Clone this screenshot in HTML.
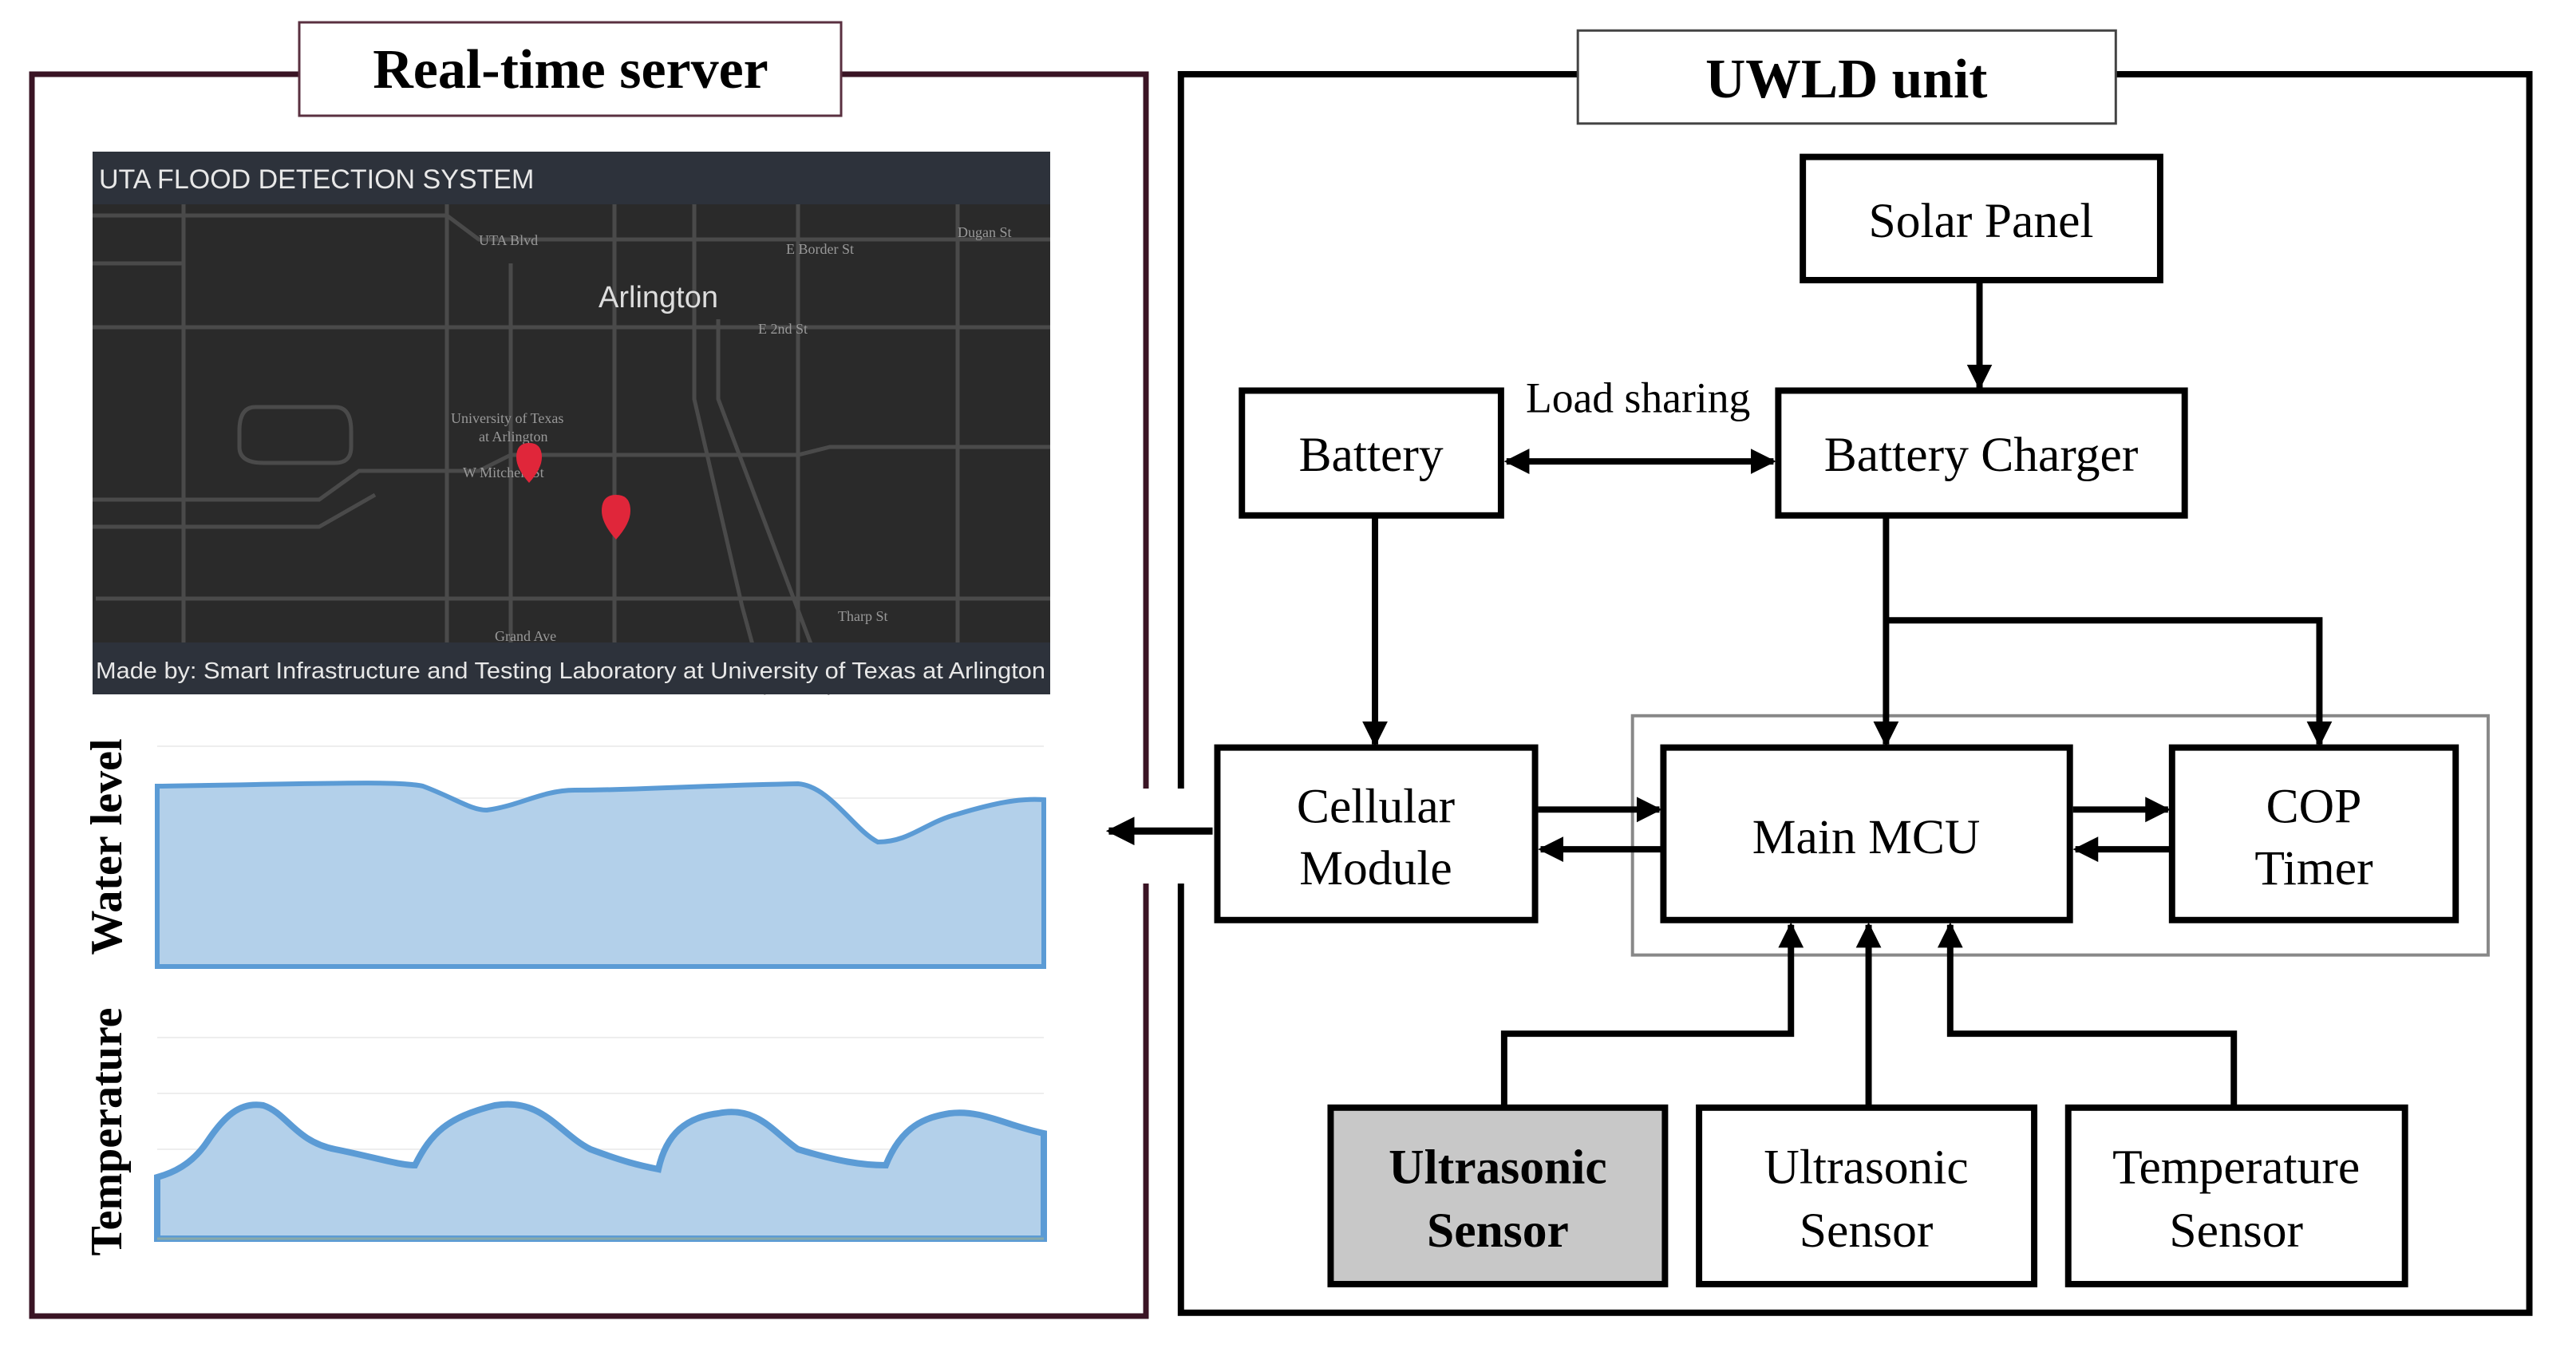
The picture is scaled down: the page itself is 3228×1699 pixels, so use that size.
<!DOCTYPE html>
<html><head><meta charset="utf-8"><style>
html,body{margin:0;padding:0;background:#fff}
svg{display:block}
text{font-family:"Liberation Serif",serif}
.m{font-family:"Liberation Sans",sans-serif}
</style></head><body>
<svg width="3228" height="1699" viewBox="0 0 3228 1699" xmlns="http://www.w3.org/2000/svg">
<defs>
<marker id="a" viewBox="0 0 10 10" refX="9" refY="5" markerWidth="4" markerHeight="4" orient="auto-start-reverse" markerUnits="strokeWidth"><path d="M0,0 L10,5 L0,10 z" fill="#000"/></marker>
</defs>
<rect width="3228" height="1699" fill="#fff"/>
<!-- left frame -->
<rect x="40" y="93" width="1396" height="1556" fill="none" stroke="#3a1424" stroke-width="7"/>
<rect x="375" y="28" width="679" height="117" fill="#fff" stroke="#5a3040" stroke-width="3"/>
<text x="715" y="110" font-size="70" font-weight="bold" text-anchor="middle">Real-time server</text>

<g transform="matrix(0.9928,0,0,0.996,4.5,0.4)">
<!-- right frame -->
<rect x="1486" y="93" width="1702" height="1558" fill="none" stroke="#000" stroke-width="8"/>
<rect x="1987" y="38" width="679" height="117" fill="#fff" stroke="#444" stroke-width="3"/>
<text x="2326" y="122" font-size="70" font-weight="bold" text-anchor="middle">UWLD unit</text>
</g>
<!-- gap -->
<rect x="1330" y="988" width="190" height="119" fill="#fff"/>
<g transform="matrix(0.9928,0,0,0.996,4.5,0.4)">
<line x1="1526" y1="1045" x2="1395" y2="1045" stroke="#000" stroke-width="9" marker-end="url(#a)"/>
</g>

<!-- map -->
<rect x="116" y="190" width="1200" height="680" fill="#2a2a2a"/>
<g stroke="#4a4a4a" stroke-width="5" fill="none">
<path d="M116,270 H560 L600,300 H1316"/>
<path d="M116,410 H1316"/>
<path d="M116,626 H400 L450,590 H600 L640,570 H1000 L1040,560 H1316"/>
<path d="M120,750 H1316"/>
<path d="M230,255 V870"/><path d="M560,255 V870"/><path d="M770,255 V870"/>
<path d="M1000,255 V870"/><path d="M1200,255 V870"/><path d="M870,255 V500 L930,760 L960,870"/>
<path d="M116,660 H400 L470,620"/>
<path d="M320,510 H420 Q440,510 440,540 V560 Q440,580 420,580 H330 Q300,580 300,560 V540 Q300,510 320,510Z"/>
<path d="M640,330 V870"/><path d="M900,400 V500 L1040,870"/><path d="M116,330 H230"/>
</g>
<rect x="116" y="190" width="1200" height="66" fill="#2d323b"/>
<text class="m" x="124" y="236" font-size="34" fill="#e8e8e8">UTA FLOOD DETECTION SYSTEM</text>
<rect x="116" y="805" width="1200" height="65" fill="#2d323b"/>
<text class="m" x="120" y="850" font-size="29" fill="#e8e8e8" textLength="1190" lengthAdjust="spacingAndGlyphs">Made by: Smart Infrastructure and Testing Laboratory at University of Texas at Arlington</text>
<text class="m" x="750" y="385" font-size="38" fill="#ddd">Arlington</text>
<g class="m" font-size="18" fill="#999">
<text x="600" y="307">UTA Blvd</text><text x="985" y="318">E Border St</text><text x="1200" y="297">Dugan St</text>
<text x="950" y="418">E 2nd St</text><text x="565" y="530">University of Texas</text><text x="600" y="553">at Arlington</text>
<text x="580" y="598">W Mitchell St</text><text x="1050" y="778">Tharp St</text><text x="620" y="803">Grand Ave</text>
</g>
<path d="M663,555 q-16,0 -16,18 q0,14 16,32 q16,-18 16,-32 q0,-18 -16,-18z" fill="#e0263a"/>
<path d="M772,620 q-18,0 -18,20 q0,16 18,36 q18,-20 18,-36 q0,-20 -18,-20z" fill="#e0263a"/>

<!-- water level chart -->
<g stroke="#eee" stroke-width="2">
<path d="M197,935 H1308 M197,1000 H1308 M197,1070 H1308 M197,1140 H1308"/>
</g>
<path d="M197,985 C400,982 500,978 530,985 C570,1000 590,1015 610,1015 C650,1010 680,990 720,990 C800,990 850,985 1000,982 C1040,985 1070,1040 1100,1055 C1140,1055 1160,1030 1200,1020 C1250,1005 1280,1000 1308,1002 V1211 H197Z" fill="#b3d0ea" stroke="#5b9bd5" stroke-width="6"/>
<text x="152" y="1061" font-size="56" font-weight="bold" transform="rotate(-90 152 1061)" text-anchor="middle">Water level</text>
<!-- temperature -->
<g stroke="#eee" stroke-width="2"><path d="M197,1300 H1308 M197,1370 H1308 M197,1440 H1308 M197,1510 H1308"/></g>
<path d="M197,1475 C215,1470 240,1460 260,1430 C280,1400 300,1380 330,1385 C360,1395 370,1430 420,1440 C470,1450 500,1460 520,1460 C540,1420 560,1400 620,1385 C680,1375 700,1420 740,1440 C780,1455 800,1460 825,1465 C835,1420 860,1400 900,1395 C950,1385 970,1420 1000,1440 C1050,1455 1080,1460 1110,1460 C1130,1410 1160,1400 1190,1395 C1230,1390 1260,1410 1308,1420 V1552 H197Z" fill="#b3d0ea" stroke="#5b9bd5" stroke-width="8"/>
<line x1="197" y1="1552" x2="1308" y2="1552" stroke="#8aa" stroke-width="3"/>
<text x="152" y="1418" font-size="56" font-weight="bold" transform="rotate(-90 152 1418)" text-anchor="middle">Temperature</text>

<!-- diagram -->
<g transform="matrix(0.9928,0,0,0.996,4.5,0.4)">
<rect x="2056" y="900" width="1080" height="301" fill="none" stroke="#888" stroke-width="4"/>
<g fill="#fff" stroke="#000" stroke-width="8">
<rect x="2271" y="197" width="451" height="155"/>
<rect x="1563" y="491" width="327" height="157"/>
<rect x="2240" y="491" width="513" height="157"/>
<rect x="1532" y="940" width="401" height="217"/>
<rect x="2095" y="940" width="513" height="217"/>
<rect x="2737" y="940" width="358" height="217"/>
<rect x="1675" y="1393" width="422" height="222" fill="#c8c8c8"/>
<rect x="2140" y="1393" width="423" height="222"/>
<rect x="2606" y="1393" width="425" height="222"/>
</g>
<g font-size="62" text-anchor="middle">
<text x="2496" y="298">Solar Panel</text>
<text x="1726" y="592">Battery</text>
<text x="2496" y="592">Battery Charger</text>
<text x="1732" y="1034">Cellular</text><text x="1732" y="1112">Module</text>
<text x="2351" y="1073">Main MCU</text>
<text x="2916" y="1034">COP</text><text x="2916" y="1112">Timer</text>
<text x="1886" y="1488" font-weight="bold">Ultrasonic</text><text x="1886" y="1568" font-weight="bold">Sensor</text>
<text x="2351" y="1488">Ultrasonic</text><text x="2351" y="1568">Sensor</text>
<text x="2818" y="1488">Temperature</text><text x="2818" y="1568">Sensor</text>
<text x="2063" y="518" font-size="54">Load sharing</text>
</g>
<g stroke="#000" stroke-width="8" fill="none" marker-end="url(#a)">
<path d="M2494,352 V487"/>
<path d="M1897,580 H2234" marker-start="url(#a)"/>
<path d="M1731,648 V936"/>
<path d="M2376,648 V936"/>
<path d="M2376,780 H2923 V936"/>
<path d="M1937,1018 H2090"/>
<path d="M2095,1068 H1940"/>
<path d="M2612,1018 H2732"/>
<path d="M2737,1068 H2615"/>
<path d="M1894,1393 V1300 H2256 V1163"/>
<path d="M2354,1393 V1163"/>
<path d="M2815,1393 V1300 H2457 V1163"/>
</g>
</g>
</svg>
</body></html>
